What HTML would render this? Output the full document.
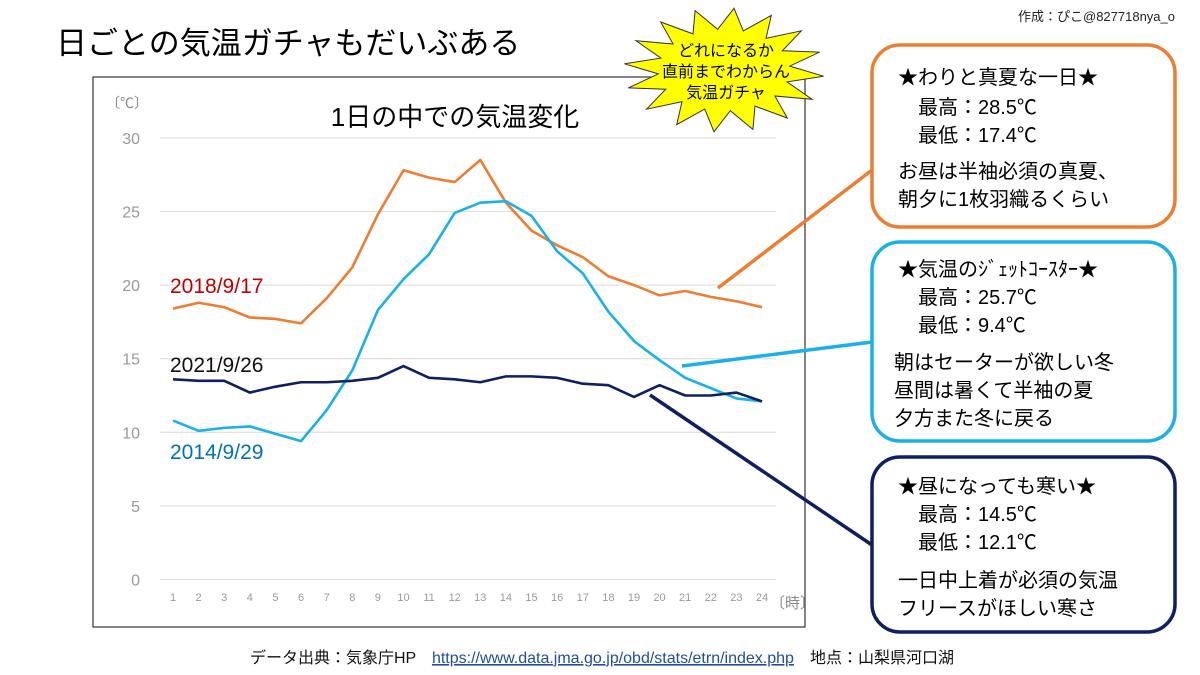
<!DOCTYPE html>
<html><head><meta charset="utf-8">
<style>
body{margin:0;width:1200px;height:675px;background:#fff;overflow:hidden;font-family:"Liberation Sans","Noto Sans CJK JP",sans-serif;}
svg{position:absolute;left:0;top:0}
text{font-family:"Liberation Sans","Noto Sans CJK JP",sans-serif;}
</style></head><body>
<svg width="1200" height="675" viewBox="0 0 1200 675">
  <text x="56" y="54" font-size="31" fill="#000">日ごとの気温ガチャもだいぶある</text>
  <text x="1175" y="21" font-size="13" fill="#222" text-anchor="end">作成：ぴこ@827718nya_o</text>
  <rect x="93" y="77" width="712" height="550" fill="#fff" stroke="#333" stroke-width="1.2"/>
  <text x="455" y="126" font-size="26" text-anchor="middle" fill="#000">1日の中での気温変化</text>
  <text x="106" y="108" font-size="14" fill="#888">〔℃〕</text>
  <text x="770" y="608" font-size="15" fill="#888">〔時〕</text>
  <g id="grid"></g>
  <g id="lines"></g>
  <text x="170" y="293" font-size="21" fill="#c00000">2018/9/17</text>
  <text x="170" y="372" font-size="21" fill="#111">2021/9/26</text>
  <text x="170" y="459" font-size="21" fill="#0070c0">2014/9/29</text>

  <polygon fill="#ffff00" stroke="#333" stroke-width="1" id="burst"/>
  <text x="726" y="56" font-size="16" text-anchor="middle">どれになるか</text>
  <text x="726" y="77" font-size="16" text-anchor="middle">直前までわからん</text>
  <text x="726" y="98" font-size="16" text-anchor="middle">気温ガチャ</text>

  <line x1="718" y1="288" x2="872" y2="170" stroke="#ed7d31" stroke-width="3.5"/>
  <line x1="682" y1="366" x2="872" y2="342" stroke="#1ab0e8" stroke-width="3.5"/>
  <line x1="650" y1="395" x2="872" y2="545" stroke="#0f1f5f" stroke-width="3.5"/>

  <g>
    <rect x="872" y="45" width="303" height="182" rx="28" fill="#fff" stroke="#ed7d31" stroke-width="3.5"/>
    <text x="898" y="84" font-size="20">★わりと真夏な一日★</text>
    <text x="918" y="114" font-size="20">最高：28.5℃</text>
    <text x="918" y="142" font-size="20">最低：17.4℃</text>
    <text x="898" y="178" font-size="20">お昼は半袖必須の真夏、</text>
    <text x="898" y="206" font-size="20">朝夕に1枚羽織るくらい</text>
  </g>
  <g>
    <rect x="872" y="242" width="303" height="199" rx="28" fill="#fff" stroke="#1ab0e8" stroke-width="3.5"/>
    <text x="898" y="276" font-size="20">★気温のｼﾞｪｯﾄｺｰｽﾀｰ★</text>
    <text x="918" y="304" font-size="20">最高：25.7℃</text>
    <text x="918" y="332" font-size="20">最低：9.4℃</text>
    <text x="894" y="369" font-size="20">朝はセーターが欲しい冬</text>
    <text x="894" y="397" font-size="20">昼間は暑くて半袖の夏</text>
    <text x="894" y="425" font-size="20">夕方また冬に戻る</text>
  </g>
  <g>
    <rect x="872" y="457" width="303" height="175" rx="28" fill="#fff" stroke="#0f1f5f" stroke-width="3.5"/>
    <text x="898" y="493" font-size="20">★昼になっても寒い★</text>
    <text x="918" y="521" font-size="20">最高：14.5℃</text>
    <text x="918" y="549" font-size="20">最低：12.1℃</text>
    <text x="898" y="587" font-size="20">一日中上着が必須の気温</text>
    <text x="898" y="615" font-size="20">フリースがほしい寒さ</text>
  </g>
  <text x="250" y="663" font-size="16" fill="#111">データ出典：気象庁HP　<tspan fill="#1f4e9c" text-decoration="underline">https://www.data.jma.go.jp/obd/stats/etrn/index.php</tspan>　地点：山梨県河口湖</text>
</svg>
<script>
const hours=[1,2,3,4,5,6,7,8,9,10,11,12,13,14,15,16,17,18,19,20,21,22,23,24];
const yTicks=[0,5,10,15,20,25,30];
const temps2018=[18.4,18.8,18.5,17.8,17.7,17.4,19.1,21.2,24.8,27.8,27.3,27.0,28.5,25.6,23.7,22.7,21.9,20.6,20.0,19.3,19.6,19.2,18.9,18.5];
const temps2014=[10.8,10.1,10.3,10.4,9.9,9.4,11.5,14.2,18.3,20.4,22.1,24.9,25.6,25.7,24.7,22.3,20.8,18.2,16.2,14.9,13.7,13.0,12.3,12.1];
const temps2021=[13.6,13.5,13.5,12.7,13.1,13.4,13.4,13.5,13.7,14.5,13.7,13.6,13.4,13.8,13.8,13.7,13.3,13.2,12.4,13.2,12.5,12.5,12.7,12.1];
const NS='http://www.w3.org/2000/svg';
const xs=h=>173+(h-1)*(762-173)/23;
const ys=v=>579.5-v*14.72;
const grid=document.getElementById('grid');
yTicks.forEach(t=>{
  const l=document.createElementNS(NS,'line');
  l.setAttribute('x1',160);l.setAttribute('x2',776);l.setAttribute('y1',ys(t));l.setAttribute('y2',ys(t));
  l.setAttribute('stroke','#e2e2e2');l.setAttribute('stroke-width','1.3');
  
  
  grid.appendChild(l);
  const tx=document.createElementNS(NS,'text');
  tx.setAttribute('x',140);tx.setAttribute('y',ys(t)+6);tx.setAttribute('text-anchor','end');
  tx.setAttribute('font-size','16');tx.setAttribute('fill','#999');tx.textContent=t;
  
  
  grid.appendChild(tx);
});
hours.forEach(h=>{
  const tx=document.createElementNS(NS,'text');
  tx.setAttribute('x',xs(h));tx.setAttribute('y',601);tx.setAttribute('text-anchor','middle');
  tx.setAttribute('font-size','11');tx.setAttribute('fill','#999');tx.textContent=h;
  
  
  grid.appendChild(tx);
});
const lines=document.getElementById('lines');
[[temps2018,'#ed7d31','line-2018'],[temps2014,'#1ab0e8','line-2014'],[temps2021,'#0f1f5f','line-2021']].forEach(([d,c,n])=>{
  const p=document.createElementNS(NS,'polyline');
  p.setAttribute('points',d.map((v,i)=>xs(hours[i])+','+ys(v)).join(' '));
  p.setAttribute('fill','none');p.setAttribute('stroke',c);p.setAttribute('stroke-width','2.6');p.setAttribute('stroke-linejoin','round');
  
  
  lines.appendChild(p);
});
// starburst
const pts=[];const cx=724,cy=70,N=16;
for(let i=0;i<N*2;i++){const a=Math.PI*i/N+0.1;const r=i%2?0.66:1;pts.push((cx+Math.cos(a)*100*r).toFixed(1)+','+(cy+Math.sin(a)*62*r).toFixed(1));}
document.getElementById('burst').setAttribute('points',pts.join(' '));
</script>
</body></html>
